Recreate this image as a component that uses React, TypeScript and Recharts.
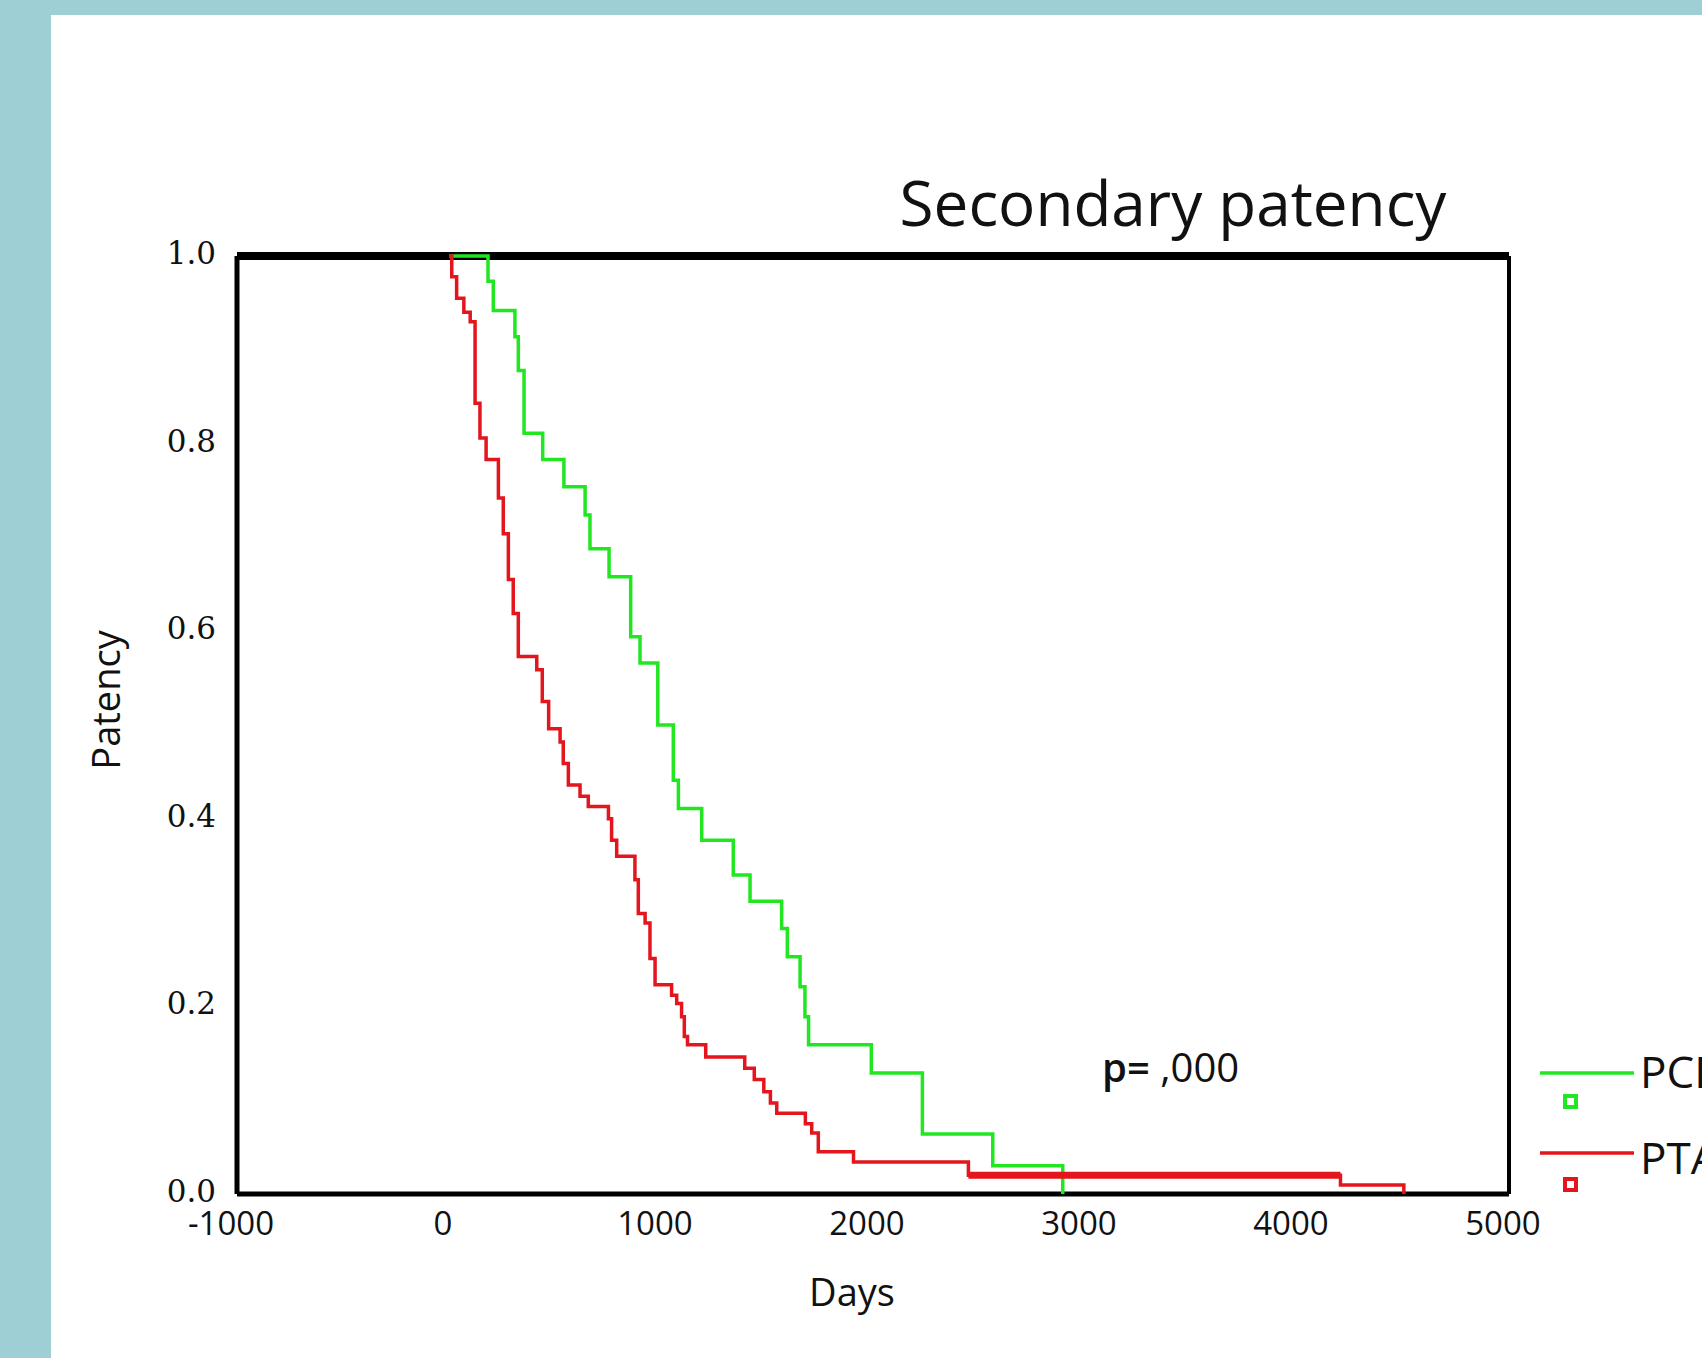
import React from "react"
import { LineChart, Line, XAxis, YAxis, ReferenceLine } from "recharts"

// Kaplan-Meier steps (day, patency)
const pcbDays = [0, 184, 209, 311, 327, 354, 442, 542, 642, 665, 755, 857, 901, 985, 1058, 1082, 1192, 1341, 1420, 1569, 1596, 1656, 1679, 1696, 1992, 2233, 2565, 2895]
const pcbPatency = [1.0, 0.973, 0.942, 0.914, 0.878, 0.811, 0.783, 0.754, 0.724, 0.688, 0.658, 0.594, 0.566, 0.5, 0.441, 0.411, 0.377, 0.34, 0.312, 0.283, 0.253, 0.221, 0.189, 0.159, 0.129, 0.064, 0.03, 0.0]

const ptaDays = [0, 13, 36, 70, 100, 123, 146, 175, 233, 256, 280, 303, 327, 414, 440, 470, 524, 539, 563, 618, 657, 752, 767, 791, 877, 893, 925, 948, 972, 1050, 1074, 1097, 1110, 1125, 1211, 1395, 1440, 1485, 1516, 1546, 1681, 1711, 1742, 1908, 2450, 4205, 4504]
const ptaPatency = [1.0, 0.978, 0.955, 0.94, 0.93, 0.843, 0.806, 0.783, 0.742, 0.704, 0.655, 0.619, 0.573, 0.559, 0.525, 0.496, 0.482, 0.459, 0.436, 0.424, 0.413, 0.4, 0.377, 0.36, 0.335, 0.299, 0.289, 0.251, 0.223, 0.212, 0.203, 0.189, 0.168, 0.159, 0.146, 0.134, 0.122, 0.109, 0.097, 0.086, 0.075, 0.065, 0.045, 0.034, 0.02, 0.0096, 0.0]

// stretch of the PTA curve drawn heavier (many censored cases)
const ptaDenseFrom = 2450
const ptaDenseTo = 4205

const dayTicks = [-1000, 0, 1000, 2000, 3000, 4000, 5000]
const patencyTicks = [0, 0.2, 0.4, 0.6, 0.8, 1.0]

const groups = ["PCB", "PTA"]
const groupColors = ["#22e622", "#e3161e"]

const pcbData = pcbDays.map((day, i) => ({ day, patency: pcbPatency[i] }))
const ptaData = ptaDays.map((day, i) => ({ day, patency: ptaPatency[i] }))
const ptaDense = ptaData.filter((p) => p.day >= ptaDenseFrom && p.day < ptaDenseTo)
const ptaDenseData = [...ptaDense, { day: ptaDenseTo, patency: ptaDense[ptaDense.length - 1].patency }]

const W = 1702
const H = 1358

export default function App() {
  return (
    <div style={{ position: "absolute", left: 0, top: 0, width: W, height: H, background: "#9ecfd5", overflow: "hidden" }}>
      <div style={{ position: "absolute", left: 51, top: 15, right: 0, bottom: 0, background: "#ffffff" }} />
      <div style={{ position: "absolute", left: 0, top: 0 }}>
        <LineChart width={W} height={H} margin={{ top: 256, right: 193, bottom: 104, left: 177 }}>
          <XAxis
            dataKey="day"
            type="number"
            domain={[-1000, 5000]}
            ticks={dayTicks}
            axisLine={false}
            tickLine={false}
            tickSize={0}
            tickMargin={18}
            height={60}
            tick={{ fill: "#111", fontSize: 33, fontFamily: "Open Sans", dx: -6 }}
          />
          <YAxis
            dataKey="patency"
            type="number"
            domain={[0, 1]}
            ticks={patencyTicks}
            tickFormatter={(v) => Number(v).toFixed(1)}
            axisLine={false}
            tickLine={false}
            tickSize={0}
            tickMargin={21}
            width={60}
            tick={{ fill: "#111", fontSize: 31, fontFamily: "DejaVu Serif", dy: -3 }}
          />
          <ReferenceLine y={1} stroke="#000" strokeWidth={8} />
          <ReferenceLine y={0} stroke="#000" strokeWidth={5} />
          <ReferenceLine x={-1000} stroke="#000" strokeWidth={5} />
          <ReferenceLine x={5000} stroke="#000" strokeWidth={4} />
          <Line data={pcbData} dataKey="patency" type="stepAfter" stroke={groupColors[0]} strokeWidth={3.5} dot={false} isAnimationActive={false} />
          <Line data={ptaData} dataKey="patency" type="stepAfter" stroke={groupColors[1]} strokeWidth={3.5} dot={false} isAnimationActive={false} />
          <Line data={ptaDenseData} dataKey="patency" type="stepAfter" stroke={groupColors[1]} strokeWidth={7} dot={false} isAnimationActive={false} />
        </LineChart>
      </div>
      <svg width={W} height={H} style={{ position: "absolute", left: 0, top: 0, pointerEvents: "none" }}>
        <text x={1173} y={226} textAnchor="middle" fontFamily="Open Sans" fontSize={62} fill="#111">
          Secondary patency
        </text>
        <text transform="translate(120,700) rotate(-90)" textAnchor="middle" fontFamily="Open Sans" fontSize={38} fill="#111">
          Patency
        </text>
        <text x={852} y={1306} textAnchor="middle" fontFamily="Open Sans" fontSize={38} fill="#111">
          Days
        </text>
        <text x={1102} y={1082} fontFamily="Open Sans" fontSize={40} fill="#111">
          <tspan fontWeight={600}>p=</tspan> ,000
        </text>
        {groups.map((g, i) => (
          <g key={g}>
            <line x1={1540} x2={1634} y1={1073 + i * 80} y2={1073 + i * 80} stroke={groupColors[i]} strokeWidth={3.5} />
            <rect x={1565} y={1096 + i * 83} width={11} height={11} fill="#ffffff" stroke={groupColors[i]} strokeWidth={4} />
            <text x={1640} y={1088 + i * 86} fontFamily="Open Sans" fontSize={44} fill="#111">
              {g}
            </text>
          </g>
        ))}
      </svg>
    </div>
  )
}
